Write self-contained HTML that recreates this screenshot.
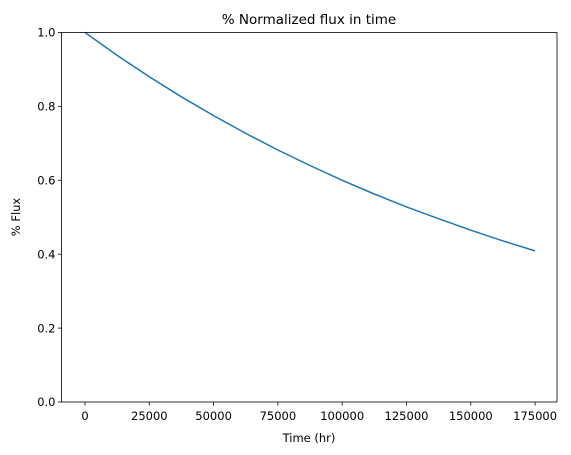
<!DOCTYPE html>
<html><head><meta charset="utf-8"><style>
body{margin:0;background:#fff;}
svg{display:block;font-family:"DejaVu Sans","Liberation Sans",sans-serif;}
</style></head><body>
<svg id="chart" width="571" height="455" viewBox="0 0 571 455" xmlns="http://www.w3.org/2000/svg">
<rect width="571" height="455" fill="#fff"/>
<text x="309" y="24" font-size="13.5" text-anchor="middle" fill="#000">% Normalized flux in time</text>
<g id="axes"></g>
<text x="309" y="442" font-size="11.5" text-anchor="middle" fill="#000">Time (hr)</text>
<text transform="translate(20,217) rotate(-90)" font-size="11.5" text-anchor="middle" fill="#000">% Flux</text>
</svg>
<script>
const times=[0,12500,25000,37500,50000,62500,75000,87500,100000,112500,125000,137500,150000,162500,175000];
const flux=[1.0,0.938,0.880,0.826,0.775,0.727,0.682,0.640,0.600,0.563,0.528,0.496,0.465,0.436,0.409];
const xTicks=[0,25000,50000,75000,100000,125000,150000,175000];
const yTicks=[0.0,0.2,0.4,0.6,0.8,1.0];
const L=61.5,R=557,T=32.5,B=402;
const x=v=>85+(v/25000)*64.3;
const y=v=>B-(v-0)/(1-0)*(B-T);
const NS="http://www.w3.org/2000/svg";
const g=document.getElementById('axes');
function mk(t,a){const e=document.createElementNS(NS,t);for(const k in a)e.setAttribute(k,a[k]);g.appendChild(e);return e;}
const pts=times.map((t,i)=>x(t).toFixed(1)+','+y(flux[i]).toFixed(1)).join(' ');
const line=mk('polyline',{points:pts,fill:'none',stroke:'#1f77b4','stroke-width':1.5});


xTicks.forEach(v=>{
 const tk=mk('line',{x1:x(v),x2:x(v),y1:B,y2:B+3.5,stroke:'#000','stroke-width':0.8});
 
 
 const tx=mk('text',{x:x(v),y:B+18,'font-size':11.5,'text-anchor':'middle',fill:'#000'});
 tx.textContent=String(v);
 
 
});
yTicks.forEach(v=>{
 const tk=mk('line',{x1:L-3.5,x2:L,y1:y(v),y2:y(v),stroke:'#000','stroke-width':0.8});
 
 
 const tx=mk('text',{x:L-6,y:y(v)+4.2,'font-size':11.5,'text-anchor':'end',fill:'#000'});
 tx.textContent=v.toFixed(1);
 
 
});
const fr=mk('rect',{x:L,y:T,width:R-L,height:B-T,fill:'none',stroke:'#000','stroke-width':0.8});


</script>
</body></html>
